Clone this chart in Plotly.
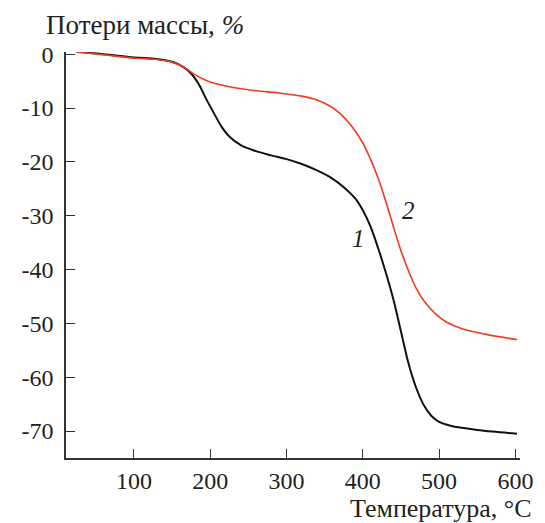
import plotly.graph_objects as go

# Curve 1 (black)
temp1 = [25, 60, 100, 130, 150, 165, 175, 185, 195, 205, 215, 225, 240, 260, 280, 300, 320,
         340, 360, 375, 390, 400, 410, 420, 430, 440, 450, 460, 470, 480, 490, 500, 515,
         530, 550, 570, 602]
loss1 = [0.4, 0.0, -0.6, -0.9, -1.4, -2.4, -3.6, -5.6, -8.4, -11.0, -13.5, -15.3, -16.9,
         -18.0, -18.8, -19.5, -20.4, -21.6, -23.1, -24.7, -26.8, -29.0, -32.0, -36.0, -40.5,
         -45.5, -51.5, -57.5, -62.0, -65.2, -67.2, -68.3, -69.0, -69.4, -69.8, -70.1, -70.5]
# Curve 2 (red)
temp2 = [25, 60, 100, 130, 150, 165, 180, 195, 210, 230, 260, 290, 320, 340, 355, 370,
         385, 400, 410, 420, 430, 440, 450, 460, 470, 480, 495, 510, 530, 560, 602]
loss2 = [0.4, -0.1, -0.75, -1.0, -1.5, -2.4, -3.8, -4.9, -5.6, -6.2, -6.8, -7.2, -7.8,
         -8.5, -9.5, -11.0, -13.3, -16.5, -19.5, -23.0, -27.3, -32.0, -36.5, -40.3, -43.5,
         -45.8, -48.2, -49.8, -51.0, -52.0, -53.0]

x_ticks = [100, 200, 300, 400, 500, 600]
y_ticks = [0, -10, -20, -30, -40, -50, -60, -70]

curve_labels = ["1", "2"]
label_pos = [(394, -34.2), (460, -29.0)]

FONT = "Liberation Serif"
TXT = "#231f20"

fig = go.Figure()
fig.add_trace(go.Scatter(x=temp1, y=loss1, mode="lines",
                         line=dict(color="#111111", width=2, shape="spline", smoothing=1.0),
                         showlegend=False, hoverinfo="skip"))
fig.add_trace(go.Scatter(x=temp2, y=loss2, mode="lines",
                         line=dict(color="#f23b1f", width=1.6, shape="spline", smoothing=1.0),
                         showlegend=False, hoverinfo="skip"))

for lab, (lx, ly) in zip(curve_labels, label_pos):
    fig.add_annotation(x=lx, y=ly, xref="x", yref="y", text=f"<i>{lab}</i>",
                       showarrow=False, font=dict(family=FONT, size=25, color=TXT))

fig.add_annotation(x=-0.049, y=1.066, xref="paper", yref="paper",
                   text="Потери массы, <i>%</i>", showarrow=False,
                   xanchor="left", yanchor="middle",
                   font=dict(family=FONT, size=27, color=TXT))
fig.add_annotation(x=1.03, y=-0.125, xref="paper", yref="paper",
                   text="Температура, °C", showarrow=False,
                   xanchor="right", yanchor="middle",
                   font=dict(family=FONT, size=26, color=TXT))

fig.update_xaxes(range=[11, 606], tickvals=x_ticks, ticktext=[str(v) for v in x_ticks],
                 ticks="inside", ticklen=9, tickwidth=1.3, tickcolor="#333",
                 showline=True, linecolor="#333", linewidth=1.5, showgrid=False,
                 zeroline=False, ticklabelstandoff=0,
                 tickfont=dict(family=FONT, size=24, color=TXT))
fig.update_yaxes(range=[-75, 0.4], tickvals=y_ticks, ticktext=[str(v) for v in y_ticks],
                 ticks="inside", ticklen=9, tickwidth=1.3, tickcolor="#333",
                 showline=True, linecolor="#333", linewidth=1.5, showgrid=False,
                 zeroline=False, ticklabelstandoff=6,
                 tickfont=dict(family=FONT, size=24, color=TXT))

fig.update_layout(width=545, height=523, margin=dict(l=66, r=17, t=52, b=65),
                  plot_bgcolor="white", paper_bgcolor="white")

fig.write_html("out.html")
